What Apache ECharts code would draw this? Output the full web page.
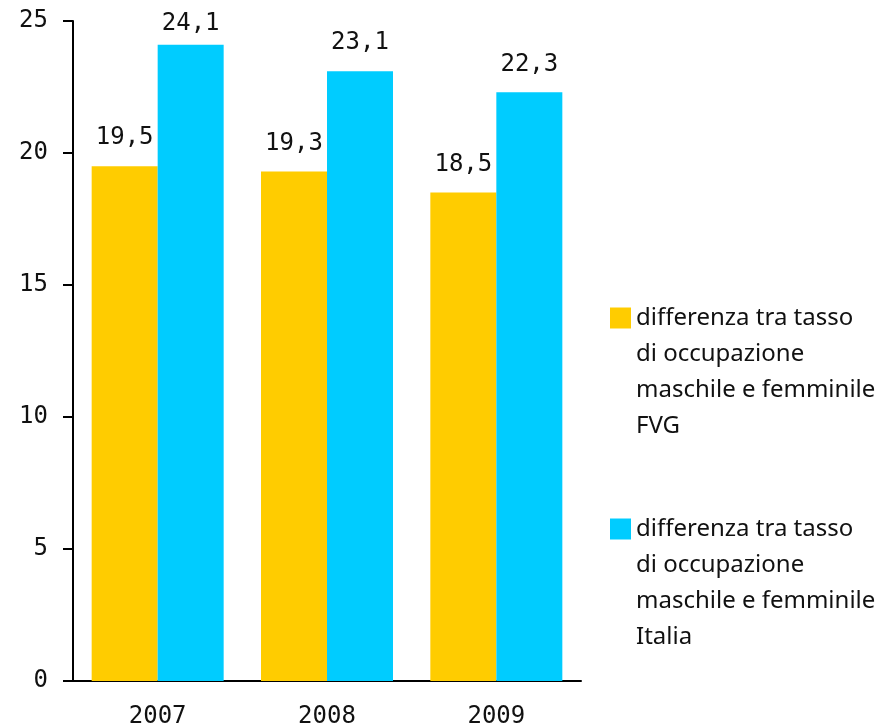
<!DOCTYPE html>
<html>
<head>
<meta charset="utf-8">
<script src="https://cdn.jsdelivr.net/npm/echarts@6/dist/echarts.min.js"></script>
<style>
  html, body { margin: 0; padding: 0; background: #fff; }
  #chart { width: 883px; height: 728px; }
</style>
</head>
<body>
<div id="chart"></div>
<script>
const years = ['2007', '2008', '2009'];
const fvgValues = [19.5, 19.3, 18.5];
const italiaValues = [24.1, 23.1, 22.3];
const fvgName = 'differenza tra tasso\ndi occupazione\nmaschile e femminile\nFVG';
const italiaName = 'differenza tra tasso\ndi occupazione\nmaschile e femminile\nItalia';

const numFont = 'DejaVu Sans Mono';
const fmt = v => String(v).replace('.', ',');

// echarts centres legend text on the icon; three blank lines in front
// put the first real line level with the square
const legendBase = {
  orient: 'vertical',
  left: 610,
  padding: 0,
  itemWidth: 21,
  itemHeight: 21,
  icon: 'rect',
  selectedMode: false,
  formatter: name => '\n\n\n' + name,
  textStyle: {
    fontFamily: 'Noto Sans',
    fontSize: 24,
    lineHeight: 36,
    color: '#111',
  },
};

const barLabel = {
  show: true,
  position: 'top',
  distance: 16,
  color: '#111',
  fontFamily: numFont,
  fontSize: 24,
  formatter: p => fmt(p.value),
};

const chart = echarts.init(document.getElementById('chart'));
chart.setOption({
  animation: false,
  grid: { left: 73, top: 21, right: 302, bottom: 47, outerBoundsMode: 'none' },
  legend: [
    Object.assign({}, legendBase, { data: [fvgName], top: 192 }),
    Object.assign({}, legendBase, { data: [italiaName], top: 403 }),
  ],
  xAxis: {
    type: 'category',
    data: years,
    axisLine: { lineStyle: { color: '#000', width: 2 } },
    axisTick: { length: 10, lineStyle: { color: '#000', width: 2 } },
    axisLabel: { color: '#111', fontFamily: numFont, fontSize: 24, margin: 24 },
  },
  yAxis: {
    type: 'value',
    min: 0,
    max: 25,
    interval: 5,
    axisLine: { show: true, lineStyle: { color: '#000', width: 2 } },
    axisTick: { show: true, length: 10, lineStyle: { color: '#000', width: 2 } },
    splitLine: { show: false },
    axisLabel: { color: '#111', fontFamily: numFont, fontSize: 24, margin: 25 },
  },
  series: [
    {
      name: fvgName,
      type: 'bar',
      data: fvgValues,
      barWidth: 66,
      barGap: '0%',
      itemStyle: { color: '#FFCC00' },
      label: barLabel,
    },
    {
      name: italiaName,
      type: 'bar',
      // top label sits closer to its bar, near the chart's upper edge
      data: italiaValues.map((v, i) => (i === 0 ? { value: v, label: { distance: 9 } } : v)),
      barWidth: 66,
      itemStyle: { color: '#00CCFF' },
      label: barLabel,
    },
  ],
});
</script>
</body>
</html>
